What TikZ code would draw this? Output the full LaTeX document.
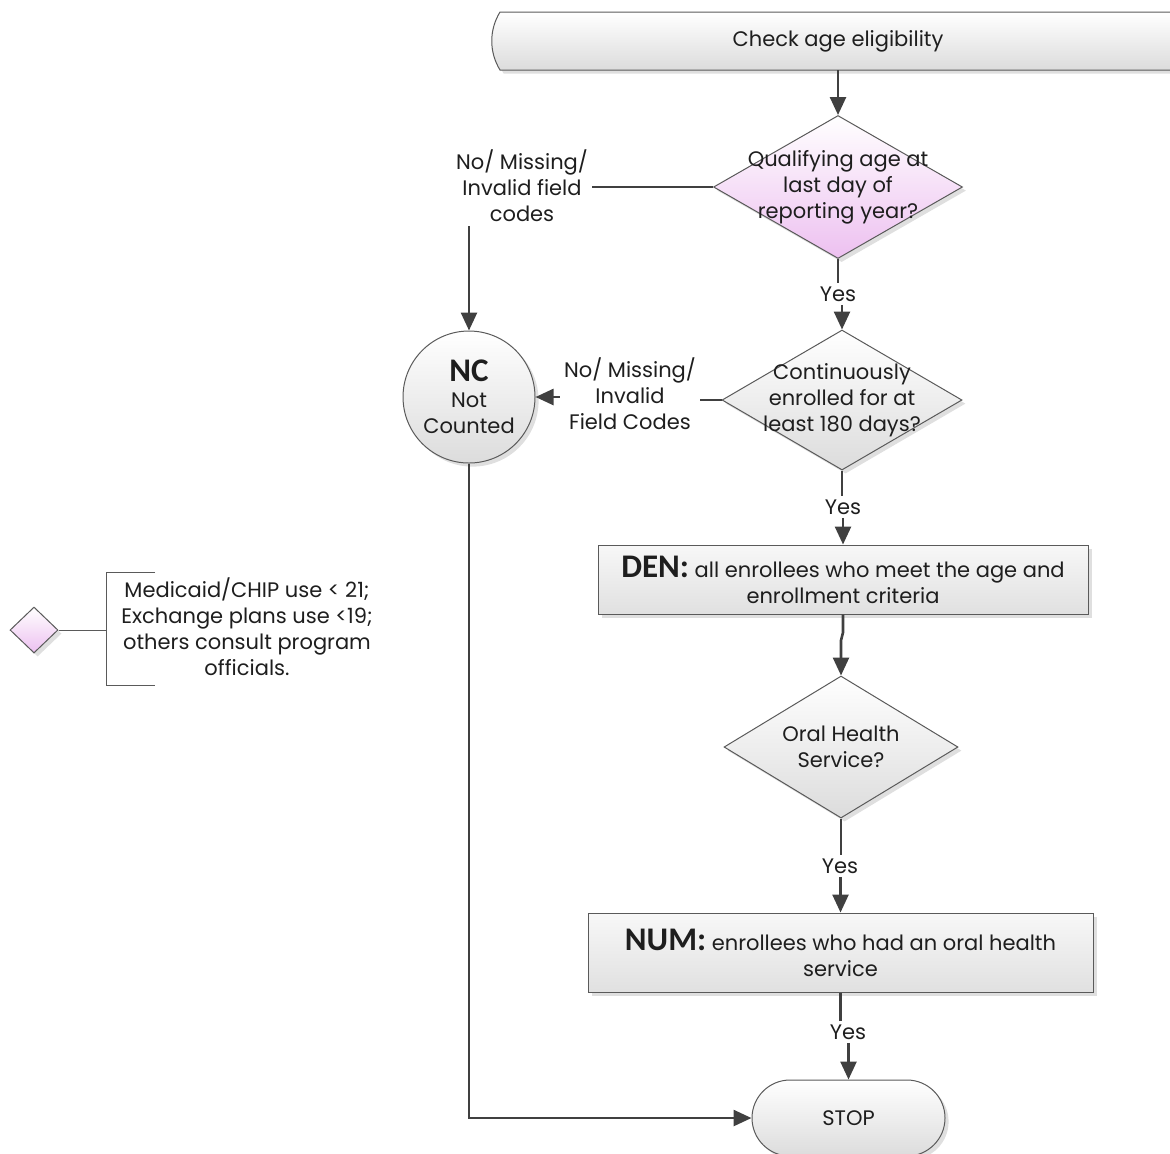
\documentclass[tikz,border=0pt]{standalone}
\usepackage{fontspec}
\setmainfont{Poppins}
\newfontfamily\calibri{Carlito}
\usetikzlibrary{shapes.geometric,arrows.meta,shadows}

\definecolor{ink}{HTML}{1E1E1E}
\definecolor{linegray}{HTML}{404040}
\definecolor{edgegray}{HTML}{5A5A5A}
\definecolor{pinkfill}{HTML}{EDC0F0}
\definecolor{grayfill}{HTML}{DCDCDC}

\newcommand{\tag}[1]{{\calibri\bfseries\fontsize{16.5}{17}\selectfont #1}}

\tikzset{
  flow/.style={-{Triangle[length=9pt,width=8pt]}, line width=1.3pt, draw=linegray},
  wire/.style={line width=1.3pt, draw=linegray},
  shade/.style={drop shadow={shadow xshift=1.8pt, shadow yshift=-1.8pt, opacity=0.25, fill=black!50}},
  decision/.style={diamond, draw=edgegray, line width=0.5pt, inner sep=0pt, shade},
  pinkq/.style={decision, top color=white, bottom color=pinkfill},
  grayq/.style={decision, top color=white, bottom color=grayfill},
  qtext/.style={align=center, inner sep=0pt},
  boxed/.style={rectangle, draw=edgegray, line width=0.5pt, align=center, shade, top color=black!3, bottom color=black!12},
  yes/.style={inner sep=1.5pt}
}

\begin{document}
\begin{tikzpicture}[x=0.5pt, y=-0.5pt, font=\fontsize{10.5}{13}\selectfont, text=ink]
            \useasboundingbox (0,0) rectangle (1170,1153);
            \clip (0,0) rectangle (1170,1153);
            % start bar
            \path[draw=edgegray, line width=0.5pt, top color=white, bottom color=grayfill, shade]
                (1180,12) -- (500,12) .. controls (489,30) and (489,52) .. (500,70) -- (1180,70) -- cycle;
            \node (start) at (838,41) [minimum height=29pt] {Check age eligibility};
            % decisions
            \node (q1) at (838,187) [pinkq, minimum width=124.5pt, minimum height=71.5pt,
                label={[qtext]center:{Qualifying age at\\last day of\\reporting year?}}] {};
            \node (q2) at (842,400) [grayq, minimum width=120pt, minimum height=70pt,
                label={[qtext]center:{Continuously\\enrolled for at\\least 180 days?}}] {};
            \node (q3) at (841,747) [grayq, minimum width=117pt, minimum height=71pt,
                label={[qtext]center:{Oral Health\\Service?}}] {};
            % not counted
            \node (nc) at (469,397) [circle, draw=edgegray, line width=0.5pt, minimum size=66pt, inner sep=0pt, align=center, top color=white, bottom color=grayfill, shade]
                {\tag{NC}\\Not\\Counted};
            \node (lab1) at (522,186) [align=center, inner sep=2pt] {No/ Missing/\\Invalid field\\codes};
            \node (lab2) at (630,394) [align=center, inner sep=2pt] {No/ Missing/\\Invalid\\Field Codes};
            % den and num
            \node (den) at (843,579.5) [boxed, minimum width=245pt, minimum height=34.5pt, inner sep=0pt]
                {\tag{DEN:} all enrollees who meet the age and\\enrollment criteria};
            \node (num) at (840.5,952.5) [boxed, minimum width=252.5pt, minimum height=39.5pt, inner sep=0pt]
                {\tag{NUM:} enrollees who had an oral health\\service};
            \node (stop) at (848.5,1118) [rectangle, rounded corners=19pt, draw=edgegray, line width=0.5pt, minimum width=96.5pt, minimum height=38pt, top color=white, bottom color=grayfill, shade] {STOP};
            % yes labels
            \node (y1) at (838,294) [yes] {Yes};
            \node (y2) at (843,507) [yes] {Yes};
            \node (y3) at (840,866) [yes] {Yes};
            \node (y4) at (848,1032) [yes] {Yes};
            % note on age
            \node (nd) at (34,630) [pinkq, minimum width=24pt, minimum height=23pt] {};
            \node (note) at (247,627) [align=center] {Medicaid/CHIP use < 21;\\Exchange plans use <19;\\others consult program\\officials.};
            \coordinate (br) at (106,630);
            \draw[edgegray, line width=0.5pt] (nd.east) -- (br);
            \draw[edgegray, line width=0.5pt] (155,572) -- (106,572) -- (106,685) -- (155,685);
            % connectors
            \draw[flow] (start.south) -- (q1.north);
            \draw[wire] (q1.west) -- (q1.west -| lab1.east);
            \draw[flow] (lab1.south -| nc.north) -- (nc.north);
            \draw[wire] (q1.south) -- (q1.south |- y1.north);
            \draw[flow] (y1.south -| q2.north) -- (q2.north);
            \draw[wire] (q2.west) -- (q2.west -| lab2.east);
            \draw[flow] (lab2.west |- nc.east) -- (nc.east);
            \draw[wire] (q2.south) -- (q2.south |- y2.north);
            \draw[flow] (y2.south -| den.north) -- (den.north);
            \draw[flow] (den.south) -- ++(0,18) -- ++(-2,8) -- (q3.north);
            \draw[wire] (q3.south) -- (q3.south |- y3.north);
            \draw[flow] (y3.south -| num.north) -- (num.north);
            \draw[wire] (num.south) -- (num.south |- y4.north);
            \draw[flow] (y4.south -| stop.north) -- (stop.north);
            \draw[flow] (nc.south) |- (stop.west);
        \end{tikzpicture}
\end{document}
